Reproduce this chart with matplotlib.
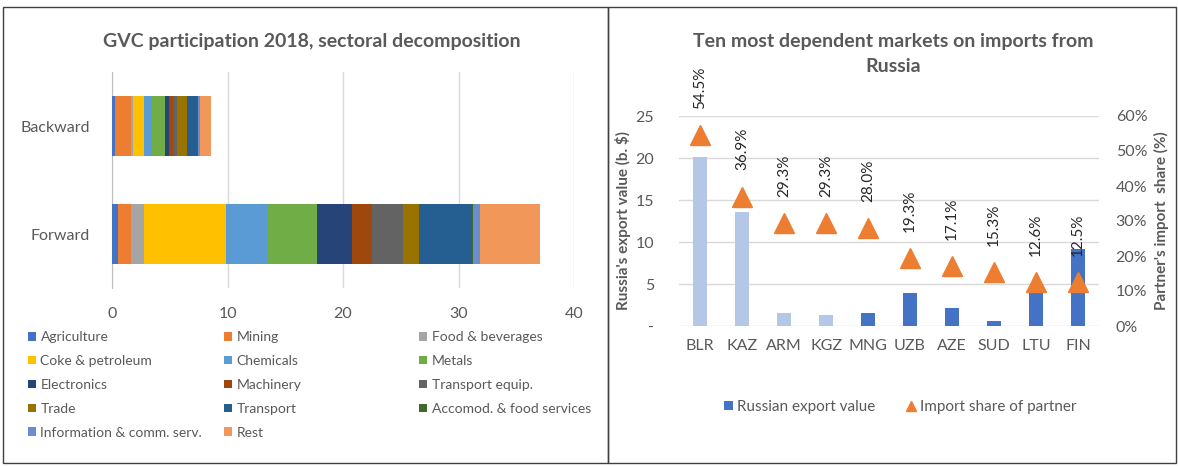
import matplotlib.pyplot as plt
from matplotlib.patches import Patch, Rectangle
from matplotlib.lines import Line2D

plt.rcParams['font.family'] = ['Lato', 'DejaVu Sans']

# GVC participation by sector (left chart)
sectors = ["Agriculture", "Mining", "Food & beverages", "Coke & petroleum",
           "Chemicals", "Metals", "Electronics", "Machinery", "Transport equip.",
           "Trade", "Transport", "Accomod. & food services",
           "Information & comm. serv.", "Rest"]
sector_colors = ["#4472C4", "#ED7D31", "#A5A5A5", "#FFC000", "#5B9BD5", "#70AD47",
                 "#264478", "#9E480E", "#636363", "#997300", "#255E91", "#43682B",
                 "#698ED0", "#F1975A"]
gvc_rows = ["Backward", "Forward"]
backward = [0.30, 1.35, 0.20, 0.95, 0.64, 1.15, 0.35, 0.32, 0.40, 0.87, 0.87, 0.05, 0.17, 0.99]
forward = [0.55, 1.07, 1.18, 7.04, 3.69, 4.24, 2.98, 1.73, 2.69, 1.44, 4.53, 0.14, 0.58, 5.20]

# Ten most dependent markets (right chart)
markets = ["BLR", "KAZ", "ARM", "KGZ", "MNG", "UZB", "AZE", "SUD", "LTU", "FIN"]
export_value = [20.1, 13.6, 1.5, 1.3, 1.6, 3.9, 2.1, 0.55, 4.4, 9.2]
import_share = [54.5, 36.9, 29.3, 29.3, 28.0, 19.3, 17.1, 15.3, 12.6, 12.5]
eaeu = ["BLR", "KAZ", "ARM", "KGZ"]
left_ticks = [0, 5, 10, 15, 20, 25]
left_ticklabels = ["-", "5", "10", "15", "20", "25"]
share_ticks = [0, 10, 20, 30, 40, 50, 60]

grey_txt = "#595959"
grid_c = "#D9D9D9"

W, H = 1178, 466
fig = plt.figure(figsize=(W / 100, H / 100), dpi=100)

# ---- left: stacked horizontal bars ----
ax1 = fig.add_axes([112 / W, 1 - 288 / H, 462 / W, 216 / H])
data = {"Backward": backward, "Forward": forward}
for i, row in enumerate(gvc_rows):
    left = 0
    for val, col in zip(data[row], sector_colors):
        ax1.barh(i, val, left=left, height=0.55, color=col, zorder=3)
        left += val
ax1.set_xlim(0, 40)
ax1.set_ylim(1.5, -0.5)
ax1.set_xticks([0, 10, 20, 30, 40])
ax1.set_yticks(range(len(gvc_rows)))
ax1.set_yticklabels(gvc_rows)
ax1.grid(axis="x", color=grid_c, lw=1, zorder=0)
for s in ["top", "right", "bottom"]:
    ax1.spines[s].set_visible(False)
ax1.spines["left"].set_color("#BFBFBF")
ax1.tick_params(axis="both", length=0, labelsize=11.5, labelcolor=grey_txt)
ax1.tick_params(axis="x", pad=14)
ax1.tick_params(axis="y", pad=16)
fig.text(312 / W, 1 - 41 / H, "GVC participation 2018, sectoral decomposition",
         ha="center", va="center", fontsize=14, fontweight="bold", color=grey_txt)

# legend laid out in three columns, row by row
col_x = [28, 224, 419]
for c in range(3):
    idx = list(range(c, len(sectors), 3))
    handles = [Patch(facecolor=sector_colors[k], edgecolor="none") for k in idx]
    fig.legend(handles, [sectors[k] for k in idx], loc="upper left",
               bbox_to_anchor=(col_x[c] / W, 1 - 331 / H), frameon=False,
               fontsize=10, labelcolor=grey_txt, handlelength=0.6, handleheight=0.6,
               handletextpad=0.3, labelspacing=0.86, borderaxespad=0, borderpad=0)

# ---- right: export value bars + import share triangles ----
ax2 = fig.add_axes([679 / W, 1 - 326 / H, 420 / W, 210 / H])
x = range(len(markets))
bar_cols = ["#B4C7E7" if m in eaeu else "#4472C4" for m in markets]
ax2.bar(x, export_value, width=0.32, color=bar_cols, zorder=3)
ax2.set_ylim(0, 25)
ax2.set_xlim(-0.5, len(markets) - 0.5)
ax2.set_yticks(left_ticks)
ax2.set_yticklabels(left_ticklabels)
ax2.set_xticks(list(x))
ax2.set_xticklabels(markets)
ax2.grid(axis="y", color=grid_c, lw=1, zorder=0)
for s in ax2.spines.values():
    s.set_visible(False)
ax2.tick_params(axis="both", length=0, labelsize=11.5, labelcolor=grey_txt)
ax2.tick_params(axis="y", pad=18)
ax2.tick_params(axis="x", pad=9)
ax2.set_ylabel("Russia's export value (b. $)", fontsize=11, fontweight="bold",
               color=grey_txt, labelpad=3)

ax3 = ax2.twinx()
ax3.set_ylim(0, 60)
ax3.set_yticks(share_ticks)
ax3.set_yticklabels([f"{t}%" for t in share_ticks])
for s in ax3.spines.values():
    s.set_visible(False)
ax3.tick_params(axis="y", length=0, labelsize=11.5, labelcolor=grey_txt, pad=12)
ax3.plot(list(x), import_share, linestyle="none", marker="^", markersize=14,
         color="#ED7D31", zorder=4)
for xi, v in zip(x, import_share):
    ax3.annotate(f"{v:.1f}%", (xi, v), xytext=(0, 19), textcoords="offset points",
                 rotation=90, ha="center", va="bottom", fontsize=11, color="#262626")
ax3.set_ylabel("Partner's import  share (%)", fontsize=11, fontweight="bold",
               color=grey_txt, labelpad=5)
ax2.set_zorder(ax3.get_zorder() - 1)
ax3.patch.set_visible(False)

# two-line title, one text per line
fig.text(893 / W, 1 - 41 / H, "Ten most dependent markets on imports from",
         ha="center", va="center", fontsize=14, fontweight="bold", color=grey_txt)
fig.text(893 / W, 1 - 66 / H, "Russia",
         ha="center", va="center", fontsize=14, fontweight="bold", color=grey_txt)

leg_handles = [Patch(facecolor="#4472C4", edgecolor="none"),
               Line2D([], [], linestyle="none", marker="^", markersize=7, color="#ED7D31")]
fig.legend(leg_handles, ["Russian export value", "Import share of partner"],
           loc="center", bbox_to_anchor=(900 / W, 1 - 407 / H), ncol=2, frameon=False,
           fontsize=11, labelcolor=grey_txt, handlelength=0.6, handleheight=0.6,
           handletextpad=0.3, columnspacing=2.0)

# panel frames
for x0, x1 in [(3, 608), (608, 1176)]:
    fig.add_artist(Rectangle((x0 / W, 1 - 463 / H), (x1 - x0) / W, 456 / H,
                             transform=fig.transFigure, fill=False,
                             edgecolor="#404040", lw=1))

fig.savefig("out.png", dpi=100)
